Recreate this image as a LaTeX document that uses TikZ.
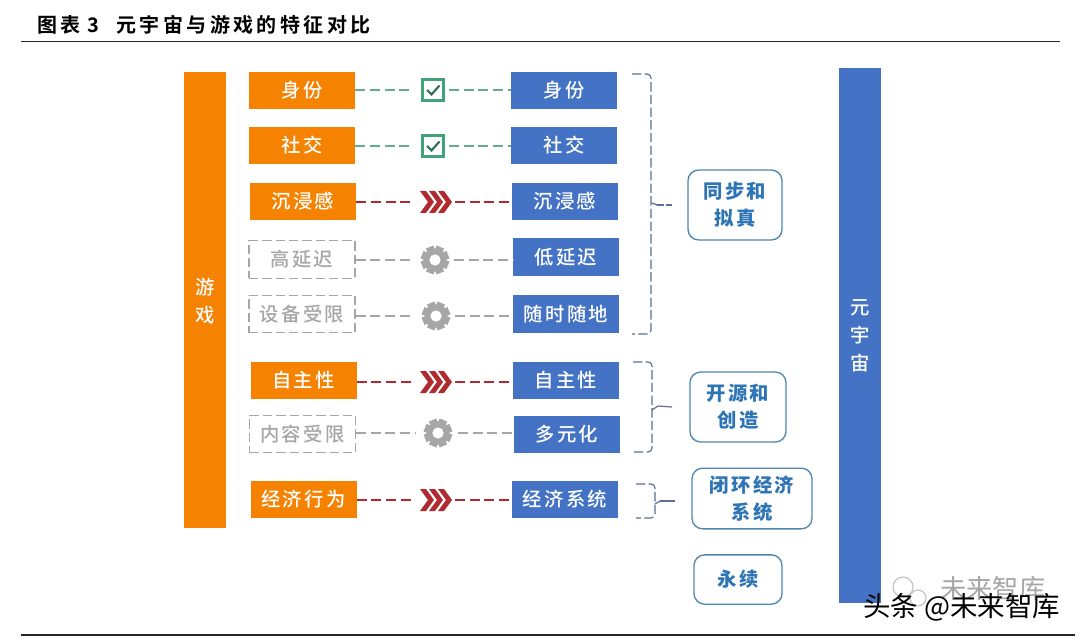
\documentclass[tikz,border=0pt]{standalone}
\usepackage{fontspec}
\setmainfont{Noto Sans CJK SC}
\newfontfamily\labelfont[LetterSpace=12]{Noto Sans CJK SC Medium}
\newfontfamily\titlefont[LetterSpace=17]{Noto Sans CJK SC Bold}
\usetikzlibrary{calc}
\definecolor{orangefill}{HTML}{F58200}
\definecolor{bluefill}{HTML}{4472C4}
\definecolor{soft}{HTML}{A6A6A6}
\definecolor{okgreen}{HTML}{3FA377}
\definecolor{okline}{HTML}{62AE8C}
\definecolor{hotred}{HTML}{B02A30}
\definecolor{bracketc}{HTML}{5A6E96}
\definecolor{roundline}{HTML}{4F86AE}
\definecolor{roundtext}{HTML}{2E75B6}
\tikzset{
  x=0.75pt,y=-0.75pt,
  tag/.style={inner sep=0pt,minimum width=79.5pt,minimum height=28pt,font=\labelfont\fontsize{14.5}{16}\selectfont},
  orangebox/.style={tag,fill=orangefill,text=white},
  bluebox/.style={tag,fill=bluefill,text=white},
  softbox/.style={tag,draw=soft,dashed,line width=0.8pt,dash pattern=on 7pt off 3pt,text=soft},
  bar/.style={inner sep=0pt,minimum width=31.5pt,align=center,text=white,font=\labelfont\fontsize{14.5}{21}\selectfont},
  goal/.style={draw=roundline,line width=1pt,rounded corners=8pt,fill=white,inner sep=0pt,align=center,text=roundtext,font=\labelfont\bfseries\fontsize{14.5}{20}\selectfont},
  icon/.style={inner sep=0pt,minimum width=18pt,minimum height=18pt},
  link/.style={line width=0.85pt,dash pattern=on 7.5pt off 3.5pt},
  greenlink/.style={link,draw=okline},
  redlink/.style={link,draw=hotred},
  softlink/.style={link,draw=soft},
  brace/.style={draw=bracketc,line width=0.9pt,dash pattern=on 7pt off 2.5pt,rounded corners=3pt},
  bracetip/.style={draw=bracketc,line width=0.9pt},
}
\newcommand{\checkicon}[1]{%
  \draw[okgreen,line width=1.7pt] ($(#1)+(-10.5,-10.5)$) rectangle ($(#1)+(10.5,10.5)$);
  \draw[okgreen!70!black,line width=1.6pt] ($(#1)+(-6,0)$) -- ($(#1)+(-1.5,4.5)$) -- ($(#1)+(6.5,-4.5)$);
}
\newcommand{\chevicon}[1]{%
  \foreach \d in {-9,0,9}{
    \fill[hotred] ($(#1)+(\d-5,-11)$) -- ($(#1)+(\d+1,-11)$) -- ($(#1)+(\d+9,0)$) -- ($(#1)+(\d+1,11)$) -- ($(#1)+(\d-5,11)$) -- ($(#1)+(\d+3,0)$) -- cycle;
  }
}
\newcommand{\gearicon}[1]{%
  \foreach \a in {0,45,...,315}{
    \fill[soft,rotate around={\a+22.5:(#1)}] ($(#1)+(-4,-14)$) rectangle ($(#1)+(4,-6)$);
  }
  \fill[soft] (#1) circle (8.6pt);
  \fill[white] (#1) circle (4.2pt);
}
% horizontal connector through an icon: left box, icon, right box, gap left, gap right, style
\newcommand{\linkrow}[6]{%
  \draw[#6] (#1.east |- #2) -- ($(#2)+(-#4,0)$);
  \draw[#6] ($(#2)+(#5,0)$) -- (#3.west |- #2);
}
\begin{document}
\begin{tikzpicture}
\useasboundingbox (0,0) rectangle (1080,641);
\fill[white] (0,0) rectangle (1080,641);

% title and rules
\node[anchor=west,inner sep=0pt,font=\titlefont\fontsize{15}{17}\selectfont] (title) at (37,25) {图表\kern5pt 3\kern13pt 元宇宙与游戏的特征对比};
\coordinate (ruleAl) at (21,41.5);
\coordinate (ruleAr) at (1060,41.5);
\coordinate (ruleBl) at (21,635);
\coordinate (ruleBr) at (1075,635);
\draw[line width=1.2pt,black!85] (ruleAl) -- (ruleAr);
\draw[line width=1.5pt,black!85] (ruleBl) -- (ruleBr);

% side bars
\node[bar,fill=orangefill,minimum height=342pt] (game) at (205,300) {};
\node[text=white,align=center,inner sep=0pt,font=\labelfont\fontsize{14.5}{21}\selectfont] (gamet) at (205,301) {游\\戏};
\node[bar,fill=bluefill,minimum height=401pt] (meta) at (860,335.5) {};
\node[text=white,align=center,inner sep=0pt,font=\labelfont\fontsize{14.5}{21}\selectfont] (metat) at (860,335.5) {元\\宇\\宙};

% left boxes
\node[orangebox] (l1) at (302,90.5) {身份};
\node[orangebox] (l2) at (302,145.5) {社交};
\node[orangebox] (l3) at (303,201.5) {沉浸感};
\node[softbox]   (l4) at (302,259.5) {高延迟};
\node[softbox]   (l5) at (302,314) {设备受限};
\node[orangebox] (l6) at (303.5,380.5) {自主性};
\node[softbox]   (l7) at (302.5,434) {内容受限};
\node[orangebox] (l8) at (303.5,499.5) {经济行为};

% right boxes
\node[bluebox] (r1) at (564,90.5) {身份};
\node[bluebox] (r2) at (564,145.5) {社交};
\node[bluebox] (r3) at (565,201.5) {沉浸感};
\node[bluebox] (r4) at (566,257) {低延迟};
\node[bluebox] (r5) at (566,314) {随时随地};
\node[bluebox] (r6) at (566,380.5) {自主性};
\node[bluebox] (r7) at (567,434.5) {多元化};
\node[bluebox] (r8) at (565,499.5) {经济系统};

% icon anchors
\node[icon] (c1) at (433,90) {};
\node[icon] (c2) at (433,146) {};
\node[icon] (c3) at (434,202) {};
\node[icon] (c4) at (435,260) {};
\node[icon] (c5) at (436,316) {};
\node[icon] (c6) at (434,382) {};
\node[icon] (c7) at (438,433) {};
\node[icon] (c8) at (434,500) {};

% connectors
\linkrow{l1}{c1}{r1}{20}{16}{greenlink}
\linkrow{l2}{c2}{r2}{20}{16}{greenlink}
\linkrow{l3}{c3}{r3}{21}{21}{redlink}
\linkrow{l4}{c4}{r4}{22}{19}{softlink}
\linkrow{l5}{c5}{r5}{23}{19}{softlink}
\linkrow{l6}{c6}{r6}{21}{21}{redlink}
\linkrow{l7}{c7}{r7}{23}{20}{softlink}
\linkrow{l8}{c8}{r8}{21}{21}{redlink}

\checkicon{c1}
\checkicon{c2}
\chevicon{c3}
\gearicon{c4}
\gearicon{c5}
\chevicon{c6}
\gearicon{c7}
\chevicon{c8}

% goal boxes
\node[goal,minimum width=70.5pt,minimum height=52.5pt] (g1) at (735,205) {同步和\\拟真};
\node[goal,minimum width=72pt,minimum height=52.5pt] (g2) at (738,407) {开源和\\创造};
\node[goal,minimum width=90pt,minimum height=45.5pt] (g3) at (752,498.5) {闭环经济\\系统};
\node[goal,minimum width=66pt,minimum height=37pt] (g4) at (738,579.5) {永续};

% brackets
\coordinate (b1) at (672,205);
\coordinate (b2) at (672,407);
\coordinate (b3) at (675,501);
\draw[brace] (632,74) -- (651,74) -- (651,334) -- (632,334);
\draw[bracetip] (652,203) -- (657,205);
\draw[brace,dash pattern=on 5pt off 1.5pt,rounded corners=0pt] (657,205) -- (b1);
\draw[brace] (633,362) -- (652,362) -- (652,452) -- (633,452);
\draw[bracetip] (652,410) -- (658,406);
\draw[bracetip] (658,406) -- (b2);
\draw[brace] (636,484) -- (655,484) -- (655,518) -- (636,518);
\draw[bracetip] (655,504) -- (660,501);
\draw[bracetip] (660,501) -- (b3);

% watermark
\node[anchor=west,inner sep=0pt,text=black!35,font=\fontsize{19.7}{21}\selectfont] (wm1) at (940,589) {未来智库};
\draw[black!25,line width=0.8pt] (903,587) circle (7.5pt);
\draw[black!25,line width=0.8pt] (918,598) circle (6pt);
\node[anchor=west,inner sep=0pt,text=black,font=\fontsize{20.6}{22}\selectfont] (wm2) at (863,607) {头条 @未来智库};
\end{tikzpicture}
\end{document}
